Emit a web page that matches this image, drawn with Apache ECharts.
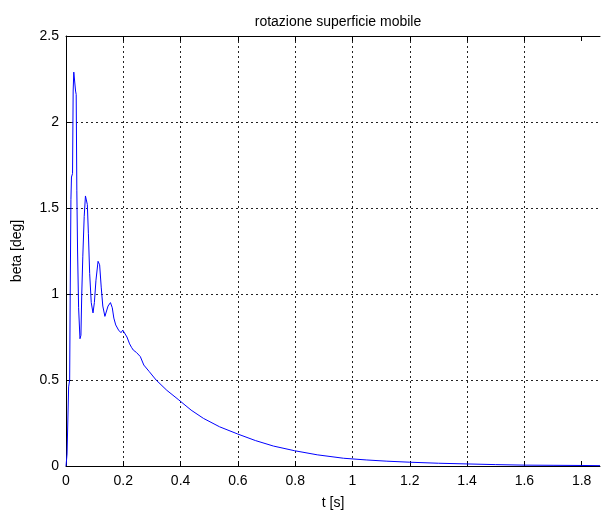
<!DOCTYPE html>
<html>
<head>
<meta charset="utf-8">
<script src="https://cdn.jsdelivr.net/npm/echarts@6/dist/echarts.min.js"></script>
<style>
  html, body { margin: 0; padding: 0; background: #fff; }
  #chart { width: 605px; height: 515px; }
</style>
</head>
<body>
<div id="chart"></div>
<script>
// time samples [s]
const tValues = [
  0, 0.0037, 0.0073, 0.0092, 0.0128, 0.0147, 0.0172, 0.0191, 0.0228, 0.0250,
  0.0272, 0.0316, 0.0334, 0.0356, 0.0378, 0.0404, 0.0440, 0.0488, 0.0521, 0.0550,
  0.0587, 0.0635, 0.0679, 0.0716, 0.0745, 0.0782, 0.0826, 0.0881, 0.0943, 0.0991,
  0.1046, 0.1119, 0.1174, 0.1229, 0.1284, 0.1358, 0.1413, 0.1468, 0.1552, 0.1615,
  0.1670, 0.1736, 0.1835, 0.1919, 0.1982, 0.2044, 0.2128, 0.2220, 0.2286, 0.2349,
  0.2459, 0.2594, 0.2716, 0.2900, 0.3145, 0.3520, 0.3938, 0.4367, 0.4796, 0.5360,
  0.5993, 0.6610, 0.7240, 0.7974, 0.8770, 0.9690, 1.0500, 1.1200, 1.2000, 1.3000,
  1.4000, 1.5000, 1.6000, 1.7000, 1.8000, 1.8640
];
// surface rotation beta [deg]
const betaValues = [
  0, 0.07, 0.08, 0.46, 0.50, 1.00, 1.55, 1.68, 1.70, 2.18,
  2.29, 2.28, 2.18, 2.16, 1.60, 1.25, 0.92, 0.74, 0.76, 1.00,
  1.22, 1.45, 1.57, 1.57, 1.52, 1.35, 1.12, 0.95, 0.89, 0.95,
  1.08, 1.19, 1.17, 1.04, 0.93, 0.87, 0.88, 0.93, 0.95, 0.92,
  0.86, 0.82, 0.79, 0.775, 0.79, 0.78, 0.75, 0.71, 0.69, 0.674,
  0.66, 0.636, 0.587, 0.55, 0.50, 0.44, 0.384, 0.325, 0.277, 0.228,
  0.186, 0.148, 0.116, 0.089, 0.065, 0.045, 0.035, 0.028, 0.022, 0.016,
  0.012, 0.008, 0.005, 0.004, 0.003, 0.002
];
// axis tick labels
const xTicks = [0, 0.2, 0.4, 0.6, 0.8, 1, 1.2, 1.4, 1.6, 1.8];
const yTicks = [0, 0.5, 1, 1.5, 2, 2.5];
const xMax = 1.864;

const FONT = 'Liberation Sans, Arial, sans-serif';
const gridLine = {
  show: true, showMinLine: false, showMaxLine: false,
  lineStyle: { color: '#222', type: [2, 3], width: 1 }
};

const chart = echarts.init(document.getElementById('chart'), null, { renderer: 'canvas' });
chart.setOption({
  animation: false,
  backgroundColor: '#fff',
  title: {
    text: 'rotazione superficie mobile',
    left: 333, top: 10, textAlign: 'center',
    textStyle: { fontFamily: FONT, fontSize: 14, fontWeight: 'normal', color: '#000' }
  },
  grid: { left: 66, right: 5, top: 36, bottom: 49 },
  xAxis: [{
    type: 'value', min: 0, max: xMax,
    name: 't [s]', nameLocation: 'middle', nameGap: 30,
    nameTextStyle: { fontFamily: FONT, fontSize: 14, color: '#000' },
    axisLine: { show: true, onZero: false, lineStyle: { color: '#000', width: 1 } },
    axisTick: { show: true, inside: true, length: 5, customValues: xTicks, lineStyle: { color: '#000' } },
    axisLabel: { customValues: xTicks, margin: 8, fontFamily: FONT, fontSize: 14, color: '#000',
                 formatter: v => String(v) },
    splitLine: gridLine
  }, {
    type: 'value', min: 0, max: xMax, position: 'top',
    axisLine: { show: true, onZero: false, lineStyle: { color: '#000', width: 1 } },
    axisTick: { show: true, inside: true, length: 5, customValues: xTicks, lineStyle: { color: '#000' } },
    axisLabel: { show: false },
    splitLine: { show: false }
  }],
  yAxis: {
    type: 'value', min: 0, max: 2.5, interval: 0.5,
    name: 'beta [deg]', nameLocation: 'middle', nameGap: 42,
    nameTextStyle: { fontFamily: FONT, fontSize: 14, color: '#000' },
    axisLine: { show: true, onZero: false, lineStyle: { color: '#000', width: 1 } },
    axisTick: { show: true, inside: true, length: 5, customValues: yTicks, lineStyle: { color: '#000' } },
    axisLabel: { customValues: yTicks, margin: 7, fontFamily: FONT, fontSize: 14, color: '#000',
                 formatter: v => String(v) },
    splitLine: gridLine
  },
  series: [{
    type: 'line',
    xAxisIndex: 0,
    data: tValues.map((t, i) => [t, betaValues[i]]),
    showSymbol: false,
    lineStyle: { color: '#0000ff', width: 1 },
    itemStyle: { color: '#0000ff' }
  }]
});
</script>
</body>
</html>
